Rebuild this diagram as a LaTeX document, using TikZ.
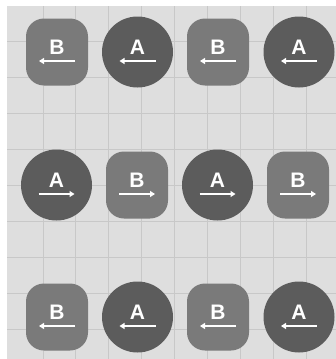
\documentclass[tikz,border=0pt]{standalone}
\usepackage{fontspec}
\setmainfont{Liberation Sans}
\usetikzlibrary{arrows.meta}
\definecolor{bgc}{RGB}{222,222,222}
\definecolor{gridc}{RGB}{200,200,200}
\definecolor{cdark}{RGB}{92,92,92}
\definecolor{cmid}{RGB}{122,122,122}
\begin{document}
\begin{tikzpicture}[x=1pt,y=-1pt,
  circ/.style={circle,fill=cdark,minimum size=71pt,inner sep=0pt},
  sq/.style={rectangle,rounded corners=18pt,fill=cmid,minimum width=62pt,minimum height=67pt,inner sep=0pt},
  lbl/.style={font=\bfseries\fontsize{21}{21}\selectfont,text=white,inner sep=0pt},
  arr/.style={white,line width=1.8pt,-{Triangle[length=5pt,width=6pt]}},
  gridline/.style={gridc,line width=0.9pt}]
\useasboundingbox (0,0) rectangle (336,359);
\fill[white] (0,0) rectangle (336,359);
\fill[bgc] (7,6) rectangle (336,359);
\foreach \x in {43,75.5,108.5,141.5,174.5,207.5,240.5,273.5,306.5}
  \draw[gridline] (\x,6) -- (\x,359);
\foreach \y in {41,77,113,149,185,221,257,293,329}
  \draw[gridline] (7,\y) -- (336,\y);
% row 1
\node[sq]   (b11) at (57,52)  {};
\node[circ] (a12) at (137.5,52) {};
\node[sq]   (b13) at (218,52) {};
\node[circ] (a14) at (299,52) {};
% row 2
\node[circ] (a21) at (56.5,185) {};
\node[sq]   (b22) at (137,185) {};
\node[circ] (a23) at (217.5,185) {};
\node[sq]   (b24) at (298,185) {};
% row 3
\node[sq]   (b31) at (57,317) {};
\node[circ] (a32) at (137.5,317) {};
\node[sq]   (b33) at (218,317) {};
\node[circ] (a34) at (299,317) {};
% labels and arrows
\foreach \n/\t/\d in {b11/B/-1,a12/A/-1,b13/B/-1,a14/A/-1,
                      a21/A/1,b22/B/1,a23/A/1,b24/B/1,
                      b31/B/-1,a32/A/-1,b33/B/-1,a34/A/-1}{
  \node[lbl] at ([yshift=4.5pt]\n.center) {\t};
  \draw[arr] ([xshift=-18*\d pt,yshift=-9pt]\n.center) -- ([xshift=18*\d pt,yshift=-9pt]\n.center);
}
\end{tikzpicture}
\end{document}
